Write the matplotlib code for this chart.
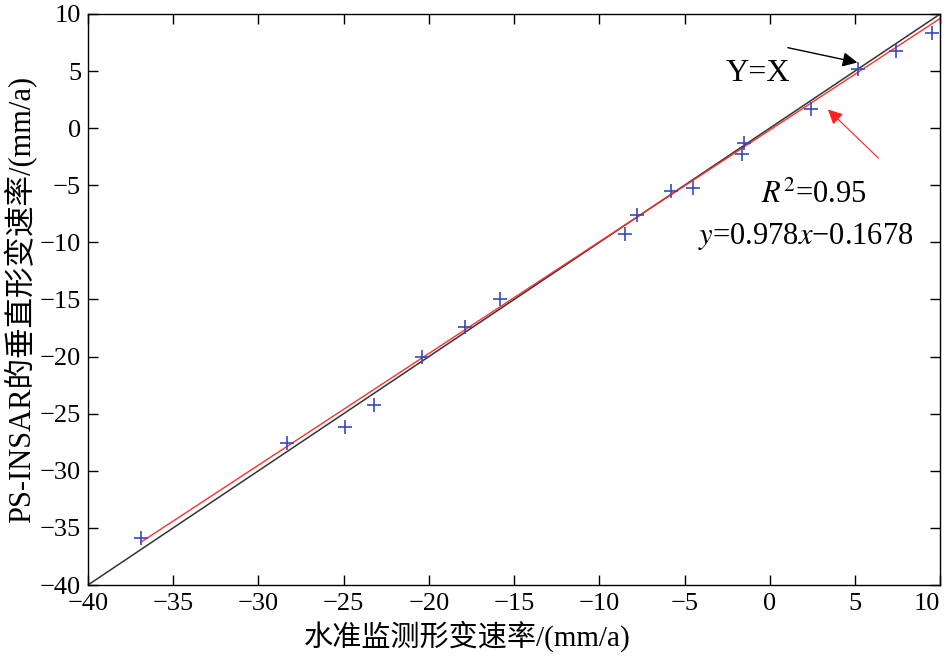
import numpy as np
import matplotlib
matplotlib.use("Agg")
import matplotlib.pyplot as plt

plt.rcParams['font.family'] = ['Liberation Serif', 'Noto Sans CJK SC', 'DejaVu Sans']
plt.rcParams['axes.unicode_minus'] = True

# leveling vs PS-InSAR vertical rates (mm/a)
level_rate = [-36.9, -28.3, -24.9, -23.2, -20.4, -17.9, -15.8, -8.5, -7.8,
              -5.8, -4.5, -1.6, -1.5, 2.4, 5.2, 7.4, 9.5]
insar_rate = [-35.9, -27.6, -26.2, -24.2, -20.0, -17.4, -15.0, -9.3, -7.6,
              -5.5, -5.2, -2.3, -1.3, 1.7, 5.2, 6.8, 8.3]
slope, intercept = 0.978, -0.1678
x_ticks = [-40, -35, -30, -25, -20, -15, -10, -5, 0, 5, 10]
y_ticks = [-40, -35, -30, -25, -20, -15, -10, -5, 0, 5, 10]

fig = plt.figure(figsize=(9.49, 6.65), dpi=100)
ax = fig.add_axes([0.0927, 0.1203, 0.898, 0.8587])

# Y=X reference line
ax.plot([-40, 10], [-40, 10], color='#333333', lw=1.1)
# fitted line
fx = np.array([min(level_rate), 10])
ax.plot(fx, slope * fx + intercept, color='#ff3030', lw=1.0)
ax.plot(level_rate, insar_rate, '+', color='#3848c0', ms=10, mew=1.2)

ax.set_xlim(-40, 10)
ax.set_ylim(-40, 10)
ax.set_xticks(x_ticks)
ax.set_yticks(y_ticks)
ax.set_xticklabels(['\u2212%d' % -t if t < 0 else str(t) for t in x_ticks])
ax.set_yticklabels(['\u2212%d' % -t if t < 0 else str(t) for t in y_ticks])
ax.tick_params(direction='in', top=True, right=True, length=7, width=1,
               labelsize=19)
ax.tick_params(axis='x', pad=6)
ax.tick_params(axis='y', pad=5)
ax.get_xticklabels()[-1].set_ha('right')
for s in ax.spines.values():
    s.set_linewidth(1.0)

ax.set_xlabel('水准监测形变速率/(mm/a)', fontsize=21, labelpad=4, x=0.445)
ax.set_ylabel('PS-INSAR的垂直形变速率/(mm/a)', fontsize=22, labelpad=2)

# annotations
ax.text(-0.7, 4.8, 'Y=X', fontsize=23, ha='center', va='center')
ax.annotate('', xy=(5.3, 5.7), xytext=(0.9, 7.1),
            arrowprops=dict(arrowstyle='-|>', color='black', lw=1.0,
                            mutation_scale=22))
ax.annotate('', xy=(3.3, 1.8), xytext=(6.5, -2.8),
            arrowprops=dict(arrowstyle='-|>', color='#ff2020', lw=0.8,
                            mutation_scale=22))
ax.text(2.6, -5.9, r'$R^{2}$=0.95', fontsize=22, ha='center', va='center',
        math_fontfamily='stix')
ax.text(2.1, -9.5, '$y$=0.978$x$\u22120.1678',
        fontsize=22, ha='center', va='center', math_fontfamily='stix')

fig.savefig('out.png', dpi=100)
